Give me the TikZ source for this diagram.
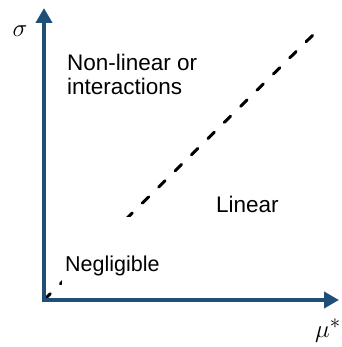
\documentclass[tikz,border=0pt]{standalone}
\usepackage{fontspec}
\setmainfont{Liberation Sans}
\usetikzlibrary{arrows.meta}
\definecolor{axisblue}{RGB}{31,78,121}
\begin{document}
\begin{tikzpicture}[x=1pt, y=-1pt,
    axisline/.style={axisblue, line width=4.5pt, line join=miter,
        {Triangle[length=15pt, width=16pt]}-{Triangle[length=15pt, width=16pt]}},
    regionlabel/.style={font=\fontsize{22.5}{27}\selectfont, anchor=base west, inner sep=0pt, align=left},
    boundary/.style={black, line width=3pt, line cap=round, dash pattern=on 9pt off 14pt}]
    \useasboundingbox (0,0) rectangle (341,347);

    % Axis end points
    \coordinate (origin) at (44,300);
    \coordinate (ytop) at (44,8);
    \coordinate (xend) at (339,300);
    \coordinate (dashend) at (317,31);

    % Boundary between the regions
    \draw[boundary] (origin) -- (dashend);

    % Region labels
    \node[regionlabel] (nonlinear) at (67,71) {Non-linear or};
    \node[regionlabel] (interact) at (67,95) {interactions};
    \node[regionlabel] (linear) at (216,212) {Linear};
    \node[regionlabel, font=\fontsize{21.5}{26}\selectfont, fill=white, text height=54pt, text depth=14pt, inner xsep=3pt] (negligible) at (62,271) {Negligible};

    % Axes
    \draw[axisline] (ytop) -- (origin) -- (xend);

    % Axis labels
    \node[font=\fontsize{30}{34}\selectfont] (sigma) at (20,31) {$\sigma$};
    \node[font=\fontsize{30}{34}\selectfont, anchor=west, inner sep=0pt] (mu) at (315,331) {$\mu^{*}$};
\end{tikzpicture}
\end{document}
